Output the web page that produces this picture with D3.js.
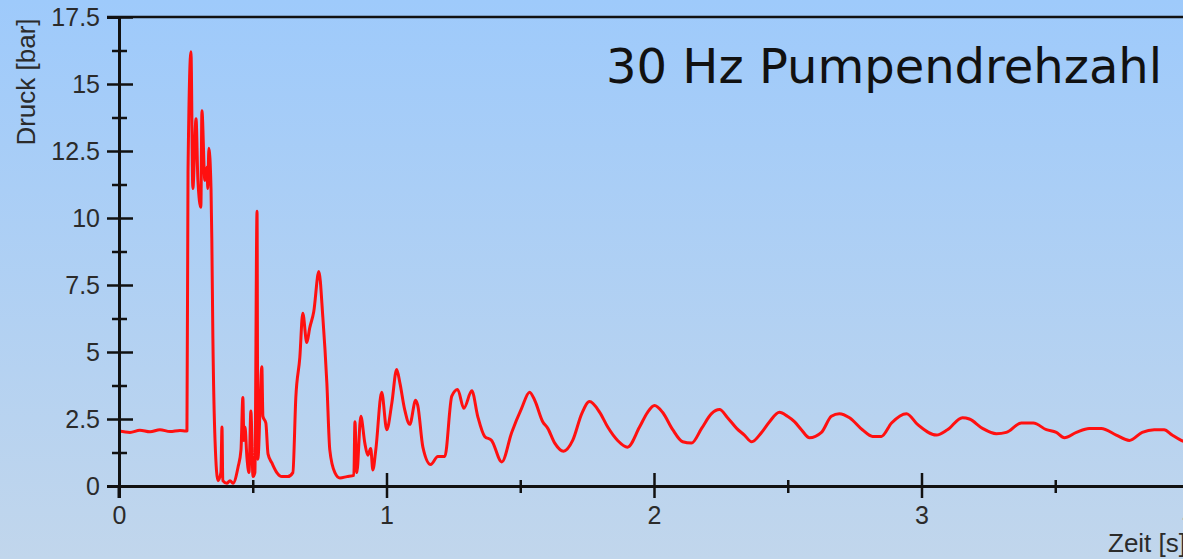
<!DOCTYPE html>
<html>
<head>
<meta charset="utf-8">
<script src="https://cdn.jsdelivr.net/npm/d3@7"></script>
<style>
  html, body { margin: 0; padding: 0; }
  body { width: 1183px; height: 559px; overflow: hidden; }
  svg { display: block; }
</style>
</head>
<body>
<div id="chart"></div>
<script>
// pressure trace (time in s, pressure in bar)
var timeS = [
    0, 0.041, 0.078, 0.116, 0.153, 0.191, 0.228, 0.250, 0.254, 0.258,
    0.269, 0.276, 0.288, 0.295, 0.306, 0.310, 0.321, 0.329, 0.332, 0.336,
    0.344, 0.347, 0.351, 0.359, 0.370, 0.381, 0.385, 0.388, 0.403, 0.415,
    0.426, 0.445, 0.456, 0.463, 0.467, 0.471, 0.478, 0.486, 0.493, 0.501,
    0.508, 0.516, 0.519, 0.534, 0.538, 0.549, 0.557, 0.572, 0.590, 0.609,
    0.631, 0.650, 0.661, 0.676, 0.687, 0.702, 0.713, 0.728, 0.747, 0.762,
    0.777, 0.788, 0.807, 0.826, 0.852, 0.878, 0.882, 0.889, 0.904, 0.919,
    0.930, 0.941, 0.949, 0.960, 0.982, 1.001, 1.020, 1.038, 1.050, 1.068,
    1.087, 1.109, 1.117, 1.136, 1.165, 1.192, 1.218, 1.244, 1.266, 1.289,
    1.319, 1.341, 1.367, 1.393, 1.431, 1.468, 1.505, 1.535, 1.554, 1.584,
    1.603, 1.629, 1.662, 1.696, 1.730, 1.759, 1.797, 1.827, 1.864, 1.901,
    1.946, 1.976, 2.002, 2.032, 2.070, 2.107, 2.140, 2.178, 2.215, 2.245,
    2.275, 2.309, 2.338, 2.365, 2.402, 2.432, 2.469, 2.499, 2.525, 2.551,
    2.581, 2.626, 2.663, 2.693, 2.731, 2.779, 2.817, 2.850, 2.888, 2.944,
    2.985, 3.056, 3.097, 3.153, 3.179, 3.228, 3.280, 3.317, 3.373, 3.418,
    3.467, 3.504, 3.534, 3.579, 3.627, 3.672, 3.728, 3.777, 3.825, 3.870,
    3.907, 3.937, 3.971, 4.0
];
var pressureBar = [
    2.05, 2.0, 2.08, 2.02, 2.1, 2.03, 2.07, 2.05, 2.05, 11.7,
    16.2, 11.1, 13.7, 11.4, 10.4, 14.0, 11.4, 11.9, 11.1, 12.6,
    11.1, 9.2, 5.5, 1.7, 0.2, 0.5, 2.2, 0.2, 0.1, 0.2,
    0.1, 0.7, 1.35, 3.3, 1.7, 2.2, 1.1, 0.5, 2.8, 0.35,
    0.5, 10.25, 1.0, 4.45, 2.6, 2.35, 1.2, 0.85, 0.5, 0.35,
    0.35, 0.5, 3.3, 4.8, 6.45, 5.35, 5.9, 6.5, 8.0, 6.3,
    3.85, 1.35, 0.5, 0.3, 0.35, 0.4, 2.4, 0.5, 2.6, 1.6,
    1.15, 1.4, 0.6, 1.35, 3.5, 2.1, 3.1, 4.35, 3.85, 2.85,
    2.3, 3.2, 3.0, 1.45, 0.8, 1.1, 1.1, 3.35, 3.6, 2.9,
    3.55, 2.6, 1.85, 1.7, 0.9, 2.0, 2.9, 3.5, 3.2, 2.4,
    2.15, 1.6, 1.3, 1.7, 2.7, 3.15, 2.75, 2.2, 1.7, 1.45,
    2.2, 2.75, 3.0, 2.75, 2.1, 1.65, 1.6, 2.15, 2.7, 2.85,
    2.55, 2.15, 1.9, 1.65, 2.0, 2.4, 2.75, 2.6, 2.4, 2.1,
    1.8, 2.0, 2.6, 2.7, 2.55, 2.1, 1.85, 1.85, 2.35, 2.7,
    2.3, 1.9, 2.1, 2.55, 2.5, 2.15, 1.95, 2.0, 2.35, 2.35,
    2.1, 2.0, 1.8, 2.0, 2.15, 2.15, 1.9, 1.7, 2.0, 2.1,
    2.1, 1.9, 1.7, 1.6
];

var yMajorTicks = [0, 2.5, 5, 7.5, 10, 12.5, 15, 17.5];
var yMinorTicks = [1.25, 3.75, 6.25, 8.75, 11.25, 13.75, 16.25];
var xMajorTicks = [0, 1, 2, 3, 4];
var xMinorTicks = [0.5, 1.5, 2.5, 3.5];

var title = "30 Hz Pumpendrehzahl";
var yTitle = "Druck [bar]";
var xTitle = "Zeit [s]";

var width = 1183, height = 559;
var margin = {left: 119, top: 17};

var svg = d3.select("#chart").append("svg")
    .attr("width", width)
    .attr("height", height);

// background gradient
var grad = svg.append("defs").append("linearGradient")
    .attr("id", "bg")
    .attr("x1", 0).attr("y1", 0).attr("x2", 0).attr("y2", 1);
grad.append("stop").attr("offset", "0%").attr("stop-color", "#9ecafb");
grad.append("stop").attr("offset", "100%").attr("stop-color", "#c1d6ec");

svg.append("rect")
    .attr("width", width)
    .attr("height", height)
    .attr("fill", "url(#bg)");

var x = d3.scaleLinear().domain([0, 4]).range([0, 1070]);
var y = d3.scaleLinear().domain([0, 17.5]).range([469, 0]);

var g = svg.append("g")
    .attr("transform", "translate(" + margin.left + "," + margin.top + ")");

// top frame line
g.append("line")
    .attr("x1", -12).attr("x2", width)
    .attr("y1", y(17.5)).attr("y2", y(17.5))
    .attr("stroke", "#111").attr("stroke-width", 2.5);

// the trace
var data = timeS.map(function (t, i) { return {t: t, p: pressureBar[i]}; });
var line = d3.line()
    .curve(d3.curveMonotoneX)
    .x(function (d) { return x(d.t); })
    .y(function (d) { return y(d.p); });

g.append("path")
    .datum(data)
    .attr("fill", "none")
    .attr("stroke", "#ff1010")
    .attr("stroke-width", 3)
    .attr("stroke-linejoin", "round")
    .attr("d", line);

var tickFont = "'Liberation Sans', Arial, sans-serif";

// y axis, major ticks cross the axis line
var yAxis = g.append("g")
    .call(d3.axisLeft(y).tickValues(yMajorTicks).tickSize(12).tickPadding(7)
        .tickFormat(function (d) { return d; }));
yAxis.selectAll(".tick line").attr("x1", 14).attr("stroke-width", 2.5);
g.append("g")
    .call(d3.axisLeft(y).tickValues(yMinorTicks).tickSize(7).tickFormat(""))
    .selectAll(".tick line").attr("x1", 8).attr("stroke-width", 2.5);

// x axis
var xAxis = g.append("g")
    .attr("transform", "translate(0," + y(0) + ")")
    .call(d3.axisBottom(x).tickValues(xMajorTicks).tickSize(12).tickPadding(8)
        .tickFormat(d3.format("d")));
xAxis.selectAll(".tick line").attr("y1", -13).attr("stroke-width", 2.5);
g.append("g")
    .attr("transform", "translate(0," + y(0) + ")")
    .call(d3.axisBottom(x).tickValues(xMinorTicks).tickSize(7).tickFormat(""))
    .selectAll(".tick line").attr("y1", -6).attr("stroke-width", 2.5);

yAxis.attr("font-size", 25).attr("font-family", tickFont);
xAxis.attr("font-size", 25).attr("font-family", tickFont);

g.selectAll(".domain").attr("stroke", "#111").attr("stroke-width", 3);
g.selectAll(".tick line").attr("stroke", "#111");
g.selectAll(".tick text")
    .attr("fill", "#2b2b2b")
    .style("font-family", tickFont)
    .style("font-size", "25px");

// y axis line runs down to the bottom tick
g.append("line")
    .attr("x1", 0).attr("x2", 0)
    .attr("y1", y(0)).attr("y2", y(0) + 12)
    .attr("stroke", "#111").attr("stroke-width", 3);

// axis titles
svg.append("text")
    .attr("transform", "translate(35,82) rotate(-90)")
    .attr("text-anchor", "middle")
    .attr("fill", "#2b2b2b")
    .style("font-family", tickFont)
    .style("font-size", "26px")
    .text(yTitle);

svg.append("text")
    .attr("x", 1108)
    .attr("y", 552)
    .attr("fill", "#2b2b2b")
    .style("font-family", tickFont)
    .style("font-size", "26px")
    .text(xTitle);

// chart title
svg.append("text")
    .attr("x", 606)
    .attr("y", 83)
    .attr("fill", "#111")
    .style("font-family", "'DejaVu Sans', Verdana, sans-serif")
    .style("font-size", "48px")
    .text(title);
</script>
</body>
</html>
